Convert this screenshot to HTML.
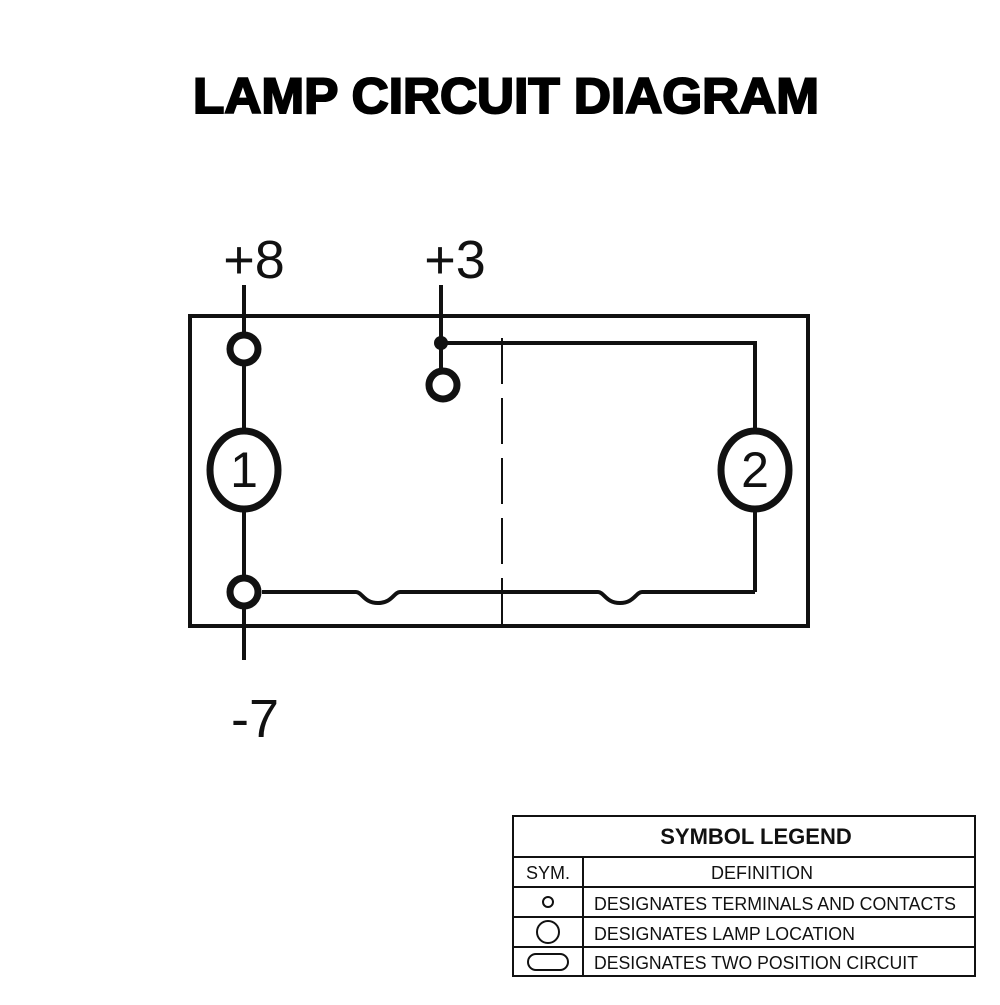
<!DOCTYPE html>
<html><head><meta charset="utf-8"><style>
html,body{margin:0;padding:0;background:#fff;}
</style></head><body>
<svg width="1000" height="1000" viewBox="0 0 1000 1000" xmlns="http://www.w3.org/2000/svg" font-family="'Liberation Sans', sans-serif">
<rect width="1000" height="1000" fill="#fff"/>
<text x="506" y="113" text-anchor="middle" font-size="50" font-weight="bold" stroke="#000" stroke-width="2" textLength="626" lengthAdjust="spacingAndGlyphs">LAMP CIRCUIT DIAGRAM</text>

<g stroke="#111" fill="none">
<rect x="190" y="316" width="618" height="310" stroke-width="4"/>
<line x1="502" y1="316" x2="502" y2="626" stroke-width="2" stroke-dasharray="0 22 46 14 46 14 46 14 46 14 46 14"/>
<line x1="244" y1="285" x2="244" y2="660" stroke-width="4"/>
<line x1="441" y1="285" x2="441" y2="372" stroke-width="4"/>
<polyline points="441,343 755,343 755,592" stroke-width="4"/>
<path d="M262,592 H356 C362,592 364,603 378,603 C392,603 394,592 400,592 H598 C604,592 606,603 620,603 C634,603 636,592 642,592 H755" stroke-width="4"/>
</g>
<g stroke="#111" stroke-width="7" fill="#fff">
<circle cx="244" cy="349" r="14"/>
<circle cx="244" cy="592" r="14"/>
<circle cx="443" cy="385" r="14"/>
<ellipse cx="244" cy="470" rx="34" ry="39"/>
<ellipse cx="755" cy="470" rx="34" ry="39"/>
</g>
<circle cx="441" cy="343" r="7" fill="#111"/>
<g font-size="50" fill="#111" text-anchor="middle">
<text x="244" y="487">1</text>
<text x="755" y="487">2</text>
<text x="254" y="278" font-size="54">+8</text>
<text x="455" y="278" font-size="54">+3</text>
<text x="255" y="737" font-size="54">-7</text>
</g>

<g stroke="#111" fill="none" stroke-width="2">
<rect x="513" y="816" width="462" height="160"/>
<line x1="513" y1="857" x2="975" y2="857"/>
<line x1="513" y1="887" x2="975" y2="887"/>
<line x1="513" y1="917" x2="975" y2="917"/>
<line x1="513" y1="947" x2="975" y2="947"/>
<line x1="583" y1="857" x2="583" y2="976"/>
<circle cx="548" cy="902" r="5"/>
<circle cx="548" cy="932" r="11"/>
<rect x="528" y="954" width="40" height="16" rx="8"/>
</g>
<g fill="#111" font-size="18">
<text x="756" y="844" text-anchor="middle" font-weight="bold" font-size="22">SYMBOL LEGEND</text>
<text x="548" y="879" text-anchor="middle">SYM.</text>
<text x="762" y="879" text-anchor="middle">DEFINITION</text>
<text x="594" y="910" textLength="362" lengthAdjust="spacingAndGlyphs">DESIGNATES TERMINALS AND CONTACTS</text>
<text x="594" y="940" textLength="261" lengthAdjust="spacingAndGlyphs">DESIGNATES LAMP LOCATION</text>
<text x="594" y="969" textLength="324" lengthAdjust="spacingAndGlyphs">DESIGNATES TWO POSITION CIRCUIT</text>
</g>
</svg>
</body></html>
